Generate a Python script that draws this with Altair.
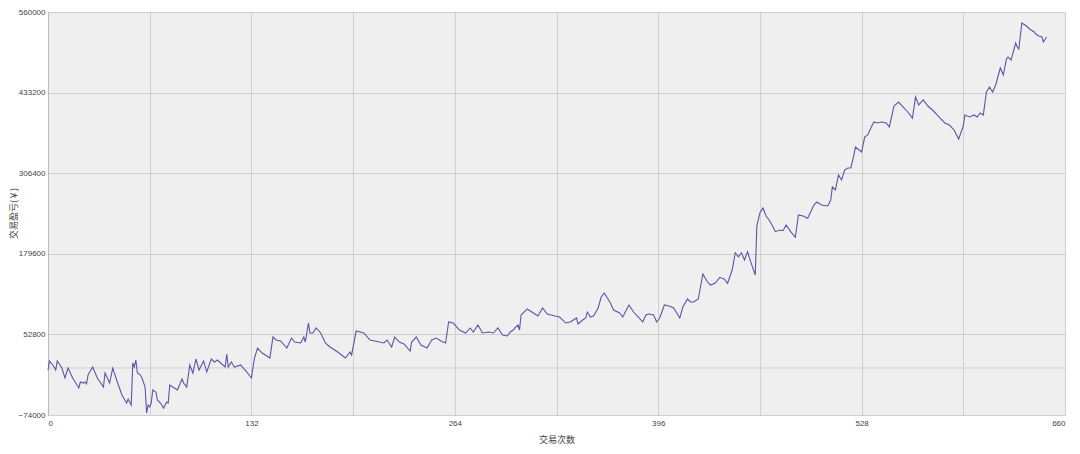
import altair as alt
import pandas as pd

# trade number (x) and cumulative profit (y)
trade_no = [
    0, 1, 4, 5, 6, 9, 11, 13, 16, 20, 21, 23, 24, 25, 26, 29, 32, 36, 37, 40,
    42, 45, 48, 51, 52, 54, 55, 56, 57, 58, 60, 61, 63, 64, 65, 66, 67, 68, 70, 71,
    73, 75, 77, 78, 79, 81, 84, 87, 88, 90, 92, 94, 96, 98, 101, 103, 106, 108, 110, 112,
    115, 116, 117, 119, 121, 125, 129, 132, 134, 136, 139, 141, 144, 146, 148, 151, 155, 158, 160, 164,
    166, 167, 169, 170, 172, 174, 177, 180, 183, 188, 193, 196, 197, 200,
    205, 209, 212, 218, 220, 223, 225, 228, 231, 235, 236, 239, 242, 246, 249, 252, 255, 258, 260, 263,
    267, 271, 274, 276, 279, 282, 286, 289, 292, 295, 298, 300, 302, 303, 305, 306, 307, 311, 315, 318,
    321, 324, 329, 332, 336, 339, 343, 344, 347, 349, 350, 352, 354, 357, 359, 361, 363, 365, 367, 371,
    373, 377, 380, 383, 386, 388, 390, 393, 395, 397, 400, 403, 406, 410, 412, 415, 417, 419, 422, 425,
    428, 430, 433,
    436, 439, 441, 444, 446, 448, 450, 452, 454, 456, 459, 460, 462, 464, 466, 468, 471, 472, 475, 477,
    479, 482, 485, 487, 490, 493, 495, 497, 499, 502, 506, 508, 509, 511, 513, 515, 517, 519, 521, 523,
    524, 528, 530, 532, 534, 536, 538, 541, 544, 546, 549, 552, 555, 558, 561, 563, 565, 568, 571, 574,
    577, 579, 582, 585, 588, 591, 594, 595, 598, 601, 603, 605, 607, 609, 611, 613, 615, 618, 620, 622,
    623, 625, 628, 629, 630, 632, 635, 637, 640, 641, 643, 645, 646, 648,
]
profit = [
    -3200, 11000, 1500, -3200, 11000, -100, -15800, -100, -15800, -31500, -22100, -23700, -22100, -25200, -11100, 1500, -15800, -30000, -7900, -23700,
    -100, -22100, -42500, -55100, -48800, -58300, 7800, 1500, 12500, -7900, -11100, -15800, -30000, -70900, -58300, -61400, -55100, -34700, -37800, -50400,
    -55100, -63000, -53500, -55100, -26800, -30000, -34700, -17400, -23700, -30000, 4700, -7900, 14100, -3200, 11000, -6400, 14100, 9400, 12500, 7800,
    1500, 22000, 1500, 9400, 1500, 4700, -6400, -15800, 15700, 31400, 23500, 20400, 15700, 48700, 44000, 42400, 31400, 47100, 40800, 39300,
    48700, 40800, 70700, 55000, 55000, 62900, 55000, 39300, 33000, 25100, 15700, 25100, 20400, 58100,
    55000, 44000, 42400, 39300, 44000, 33000, 48700, 40800, 37700, 26700, 40800, 48700, 36100, 31400, 44000, 47100, 42400, 39300, 72300, 70700,
    59700, 55000, 62900, 56600, 67600, 55000, 56600, 55000, 62900, 51900, 50300, 56600, 59700, 62900, 67600, 59700, 83300, 92800, 86500, 81700,
    94300, 84900, 81700, 80200, 70700, 72300, 78600, 69200, 75500, 78600, 88000, 80200, 81700, 94300, 111600, 117900, 110100, 102200, 91200, 86500,
    80200, 99100, 88000, 80200, 72300, 83300, 84900, 83300, 72300, 78600, 99100, 97500, 94300, 78600, 95900, 108500, 103800, 103800, 108500, 147800,
    135200, 130500, 133700,
    142600, 139500, 133200, 154100, 181300, 175000, 181300, 169800, 182900, 167200, 146200, 223300, 243800, 251700, 239100, 232800, 219700, 214400, 217000, 215900,
    224900, 214400, 205600, 240600, 239100, 235400, 245800, 256400, 261100, 256400, 254800, 264200, 284700, 280000, 303600, 295700, 311400, 314600, 314600, 335000,
    347600, 339800, 363300, 366500, 377500, 386900, 385400, 386900, 385400, 379100, 412100, 418400, 410500, 402700, 393200, 426300, 413700, 421600, 412100, 405800,
    398000, 393200, 385400, 382200, 374400, 360200, 380700, 398000, 394800, 398000, 394800, 401100, 398000, 434100, 442000, 434100, 445200, 471900, 460900, 486100,
    489200, 484500, 511200, 504900, 501800, 542700, 538000, 533300, 528500, 525400, 522200, 520700, 512800, 520700,
]

y_ticks = [-74000, 52800, 179600, 306400, 433200, 560000]
x_ticks = [0, 66, 132, 198, 264, 330, 396, 462, 528, 594, 660]
zero_line = [0]

df = pd.DataFrame({"n": trade_no, "p": profit})
zdf = pd.DataFrame({"z": zero_line})

FONT = "Liberation Sans"
CJK = "Noto Sans CJK SC"

x_enc = alt.X(
    "n:Q",
    scale=alt.Scale(domain=[0, 660], nice=False, zero=False),
    axis=alt.Axis(
        values=x_ticks,
        labelExpr="datum.value % 132 == 0 ? datum.label : ''",
        title="交易次数",
        titleFont=CJK,
        titleFontSize=9,
        titleFontWeight="normal",
        titleColor="#444444",
        titlePadding=8,
        labelFont=FONT,
        labelFontSize=8,
        labelColor="#444444",
        labelPadding=4,
        ticks=False,
        domain=False,
        grid=True,
        gridColor="#cfcfcf",
        gridWidth=1,
        format="d",
    ),
)
y_enc = alt.Y(
    "p:Q",
    scale=alt.Scale(domain=[-74000, 560000], nice=False, zero=False),
    axis=alt.Axis(
        values=y_ticks,
        title="交易盈亏(￥)",
        titleFont=CJK,
        titleFontSize=9,
        titleFontWeight="normal",
        titleColor="#444444",
        titleX=-30,
        titleY=201,
        titleAngle=270,
        titleBaseline="bottom",
        titleAlign="center",
        labelFont=FONT,
        labelFontSize=8,
        labelColor="#444444",
        labelPadding=3,
        ticks=False,
        domain=True,
        domainColor="#bbbbbb",
        grid=True,
        gridColor="#cfcfcf",
        gridWidth=1,
        format="d",
    ),
)

line = alt.Chart(df).mark_line(color="#5a56a6", strokeWidth=1.1).encode(x=x_enc, y=y_enc)

zero = alt.Chart(zdf).mark_rule(color="#cfcfcf", strokeWidth=1).encode(
    y=alt.Y("z:Q", scale=alt.Scale(domain=[-74000, 560000], nice=False, zero=False))
)

chart = (
    alt.layer(zero, line)
    .properties(
        width=1017,
        height=403,
        autosize=alt.AutoSizeParams(type="none"),
        padding={"left": 40, "top": 4, "right": 7, "bottom": 35},
        background="#ffffff",
    )
    .configure_view(fill="#efeff0", stroke="#d0d0d0", strokeWidth=1)
)

chart.save("out.html", embed_options={"renderer": "svg", "actions": False})
